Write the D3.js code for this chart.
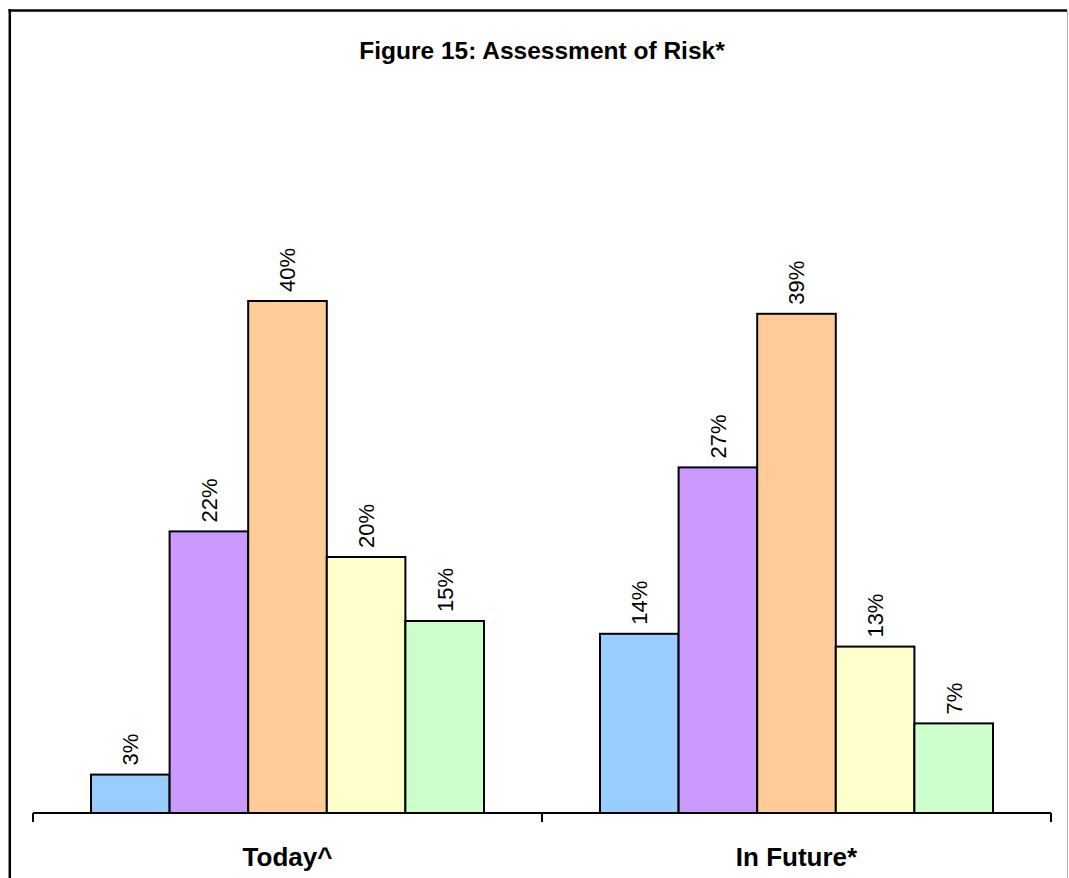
<!DOCTYPE html>
<html>
<head>
<meta charset="utf-8">
<script src="https://cdn.jsdelivr.net/npm/d3@7"></script>
<style>
  html, body { margin: 0; padding: 0; background: #fff; }
  svg { display: block; }
</style>
</head>
<body>
<svg id="chart" width="1069" height="878"></svg>
<script>
// Chart data
const title = "Figure 15: Assessment of Risk*";
const categories = ["Today^", "In Future*"];
const seriesKeys = ["r1", "r2", "r3", "r4", "r5"];
const todayValues = [3, 22, 40, 20, 15];
const futureValues = [14, 27, 39, 13, 7];
const seriesColors = ["#99CCFF", "#CC99FF", "#FFCC99", "#FFFFCC", "#CCFFCC"];

const valuesByCategory = [todayValues, futureValues];

const svg = d3.select("#chart");
const W = 1069, H = 878;
const FONT = "Liberation Sans, Arial, Helvetica, sans-serif";

// Outer frame (left/top dark, right edge light)
svg.append("line").attr("x1", 9.8).attr("x2", 9.8).attr("y1", 9).attr("y2", H)
  .attr("stroke", "#000").attr("stroke-width", 2.5);
svg.append("line").attr("x1", 8.5).attr("x2", 1067).attr("y1", 10.5).attr("y2", 10.5)
  .attr("stroke", "#000").attr("stroke-width", 2.5);
svg.append("line").attr("x1", 1067.5).attr("x2", 1067.5).attr("y1", 10).attr("y2", H)
  .attr("stroke", "#b0b0b0").attr("stroke-width", 1);

// Title
svg.append("text")
  .attr("x", 542).attr("y", 59)
  .attr("text-anchor", "middle")
  .attr("font-family", FONT).attr("font-weight", "bold").attr("font-size", 24.5)
  .text(title);

// Scales
const x0 = d3.scaleBand().domain(categories).range([33, 1051]).padding(0);
const x1 = d3.scaleBand().domain(seriesKeys).range([0, x0.bandwidth()])
  .paddingInner(0).paddingOuter(0.738);
const y = d3.scaleLinear().domain([0, 50]).range([813, 173]);

// Bars
const groups = svg.append("g").selectAll("g")
  .data(categories.map((c, i) => ({ cat: c, vals: valuesByCategory[i] })))
  .join("g")
  .attr("transform", d => `translate(${x0(d.cat)},0)`);

const bars = groups.selectAll("g.bar")
  .data(d => d.vals.map((v, j) => ({ key: seriesKeys[j], value: v, color: seriesColors[j] })))
  .join("g").attr("class", "bar");

bars.append("rect")
  .attr("x", d => x1(d.key))
  .attr("y", d => y(d.value))
  .attr("width", x1.bandwidth())
  .attr("height", d => y(0) - y(d.value))
  .attr("fill", d => d.color)
  .attr("stroke", "#000")
  .attr("stroke-width", 2);

// Rotated value labels above bars
bars.append("text")
  .attr("transform", d => `translate(${x1(d.key) + x1.bandwidth() / 2},${y(d.value) - 9}) rotate(-90)`)
  .attr("dy", "0.36em")
  .attr("text-anchor", "start")
  .attr("font-family", FONT).attr("font-size", 22)
  .text(d => d.value + "%");

// Category axis
const axis = d3.axisBottom(x0).tickSize(0).tickFormat("");
const axisG = svg.append("g").attr("transform", `translate(0,${y(0)})`).call(axis);
axisG.select(".domain").attr("stroke", "#000").attr("stroke-width", 2)
  .attr("d", `M${x0.range()[0]},0H${x0.range()[1]}`);

// Tick marks at the category boundaries
const boundaries = categories.map(c => x0(c)).concat([x0.range()[1]]);
axisG.selectAll("line.boundary")
  .data(boundaries)
  .join("line").attr("class", "boundary")
  .attr("x1", d => d).attr("x2", d => d)
  .attr("y1", 0).attr("y2", 9)
  .attr("stroke", "#000").attr("stroke-width", 2);

// Category labels
svg.append("g").selectAll("text")
  .data(categories)
  .join("text")
  .attr("x", d => x0(d) + x0.bandwidth() / 2)
  .attr("y", 866)
  .attr("text-anchor", "middle")
  .attr("font-family", FONT).attr("font-weight", "bold").attr("font-size", 26)
  .text(d => d);
</script>
</body>
</html>
